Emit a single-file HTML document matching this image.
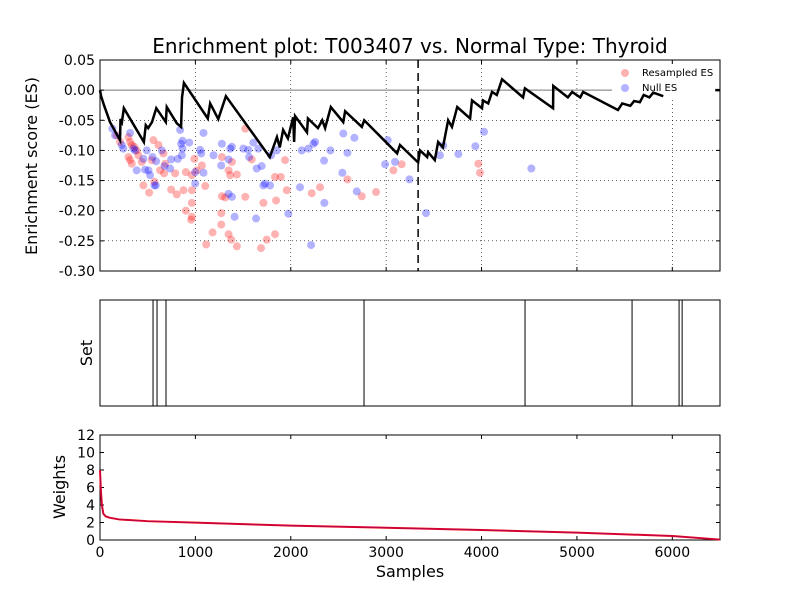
<!DOCTYPE html>
<html><head><meta charset="utf-8"><style>
body{margin:0;background:#fff}
svg{display:block;font-family:"DejaVu Sans","Liberation Sans",sans-serif}
</style></head><body>
<svg id="c" width="800" height="600" viewBox="0 0 800 600"></svg>
<script>
const xTicks=[0,1000,2000,3000,4000,5000,6000];
const esTicks=[0.05,0,-0.05,-0.10,-0.15,-0.20,-0.25,-0.30];
const wTicks=[0,2,4,6,8,10,12];
const esSamples=[0,10,42,105,210,215,230,250,460,480,505,545,590,690,700,805,850,860,880,1130,1155,1240,1320,1780,1855,1885,1920,1970,2025,2035,2045,2170,2180,2285,2330,2360,2420,2550,2570,2745,2770,3115,3145,3335,3355,3430,3440,3510,3545,3595,3650,3690,3745,3880,3900,4005,4015,4070,4110,4160,4215,4435,4455,4750,4752,4905,4950,5035,5065,5430,5475,5560,5600,5660,5700,5760,5800,5905];
const esValues=[0,-0.009,-0.025,-0.053,-0.083,-0.048,-0.053,-0.030,-0.086,-0.058,-0.063,-0.053,-0.030,-0.053,-0.028,-0.055,-0.061,-0.012,0.012,-0.047,-0.022,-0.048,-0.010,-0.111,-0.078,-0.095,-0.066,-0.080,-0.045,-0.086,-0.043,-0.070,-0.047,-0.063,-0.050,-0.063,-0.028,-0.053,-0.035,-0.061,-0.050,-0.105,-0.091,-0.120,-0.100,-0.111,-0.103,-0.116,-0.086,-0.095,-0.050,-0.061,-0.028,-0.047,-0.017,-0.030,-0.017,-0.022,-0.003,-0.008,0.018,-0.012,0.003,-0.030,0.007,-0.012,-0.003,-0.012,-0.003,-0.033,-0.022,-0.026,-0.018,-0.020,-0.008,-0.012,-0.004,-0.010];
const resS=[175,210,298,315,333,360,385,402,298,315,333,438,455,515,570,543,560,613,665,630,683,672,788,746,805,875,900,963,990,1015,1068,1103,963,963,900,963,956,1180,1113,1271,1271,1278,1313,1348,1376,1435,1523,1523,1278,1348,1383,1435,1365,1590,1713,1748,1688,1835,1846,1835,1895,1940,1958,2220,2307,2594,2744,2894,3076,3163,3966,3984];
const resES=[-0.075,-0.086,-0.078,-0.086,-0.091,-0.094,-0.100,-0.108,-0.111,-0.116,-0.122,-0.119,-0.158,-0.170,-0.152,-0.116,-0.083,-0.091,-0.105,-0.133,-0.122,-0.138,-0.138,-0.165,-0.173,-0.166,-0.136,-0.141,-0.114,-0.133,-0.125,-0.159,-0.166,-0.187,-0.200,-0.210,-0.215,-0.236,-0.256,-0.204,-0.223,-0.176,-0.178,-0.239,-0.248,-0.259,-0.064,-0.177,-0.111,-0.133,-0.119,-0.140,-0.141,-0.115,-0.187,-0.248,-0.262,-0.239,-0.183,-0.144,-0.144,-0.116,-0.166,-0.171,-0.161,-0.148,-0.176,-0.169,-0.133,-0.123,-0.122,-0.137];
const nullS=[130,158,228,245,315,350,368,455,473,490,385,508,525,550,570,585,588,648,676,735,746,815,840,850,865,865,858,935,998,998,1050,1061,1085,1085,1190,1271,1278,1348,1365,1383,1348,1383,1411,1503,1556,1563,1608,1660,1695,1713,1730,1783,1643,1636,1793,1853,1975,2097,2115,2185,2237,2255,2349,2352,2415,2541,2551,2594,2667,2692,2989,3017,3093,3244,3418,2213,3564,3599,3757,3935,4026,4522];
const nullES=[-0.064,-0.075,-0.091,-0.097,-0.071,-0.097,-0.100,-0.114,-0.132,-0.100,-0.133,-0.133,-0.141,-0.111,-0.158,-0.158,-0.118,-0.100,-0.126,-0.130,-0.115,-0.114,-0.066,-0.089,-0.084,-0.097,-0.108,-0.087,-0.155,-0.136,-0.099,-0.105,-0.071,-0.137,-0.108,-0.125,-0.089,-0.115,-0.097,-0.094,-0.172,-0.177,-0.210,-0.097,-0.099,-0.111,-0.087,-0.097,-0.126,-0.158,-0.155,-0.158,-0.130,-0.213,-0.108,-0.100,-0.205,-0.161,-0.100,-0.097,-0.089,-0.086,-0.117,-0.187,-0.100,-0.137,-0.072,-0.104,-0.079,-0.168,-0.123,-0.083,-0.119,-0.148,-0.204,-0.257,-0.108,-0.092,-0.106,-0.093,-0.069,-0.130];
const setHits=[556,598,692,2768,4456,5578,6071,6103];
const maxES=3335;
const wSamples=[0,10,20,35,60,100,200,500,1000,2000,3000,4000,5000,6000,6500];
const wValues=[8,5.5,4.0,3.0,2.7,2.55,2.35,2.15,1.98,1.64,1.4,1.14,0.84,0.46,0.05];

const NS="http://www.w3.org/2000/svg";
const svg=document.getElementById('c');
function el(t,a,p){const e=document.createElementNS(NS,t);for(const k in a)e.setAttribute(k,a[k]);(p||svg).appendChild(e);return e;}
const L=100,R=720;
const xs=v=>L+(v/6500)*(R-L);
const T1=60,B1=271,ys=v=>T1+(0.05-v)/0.35*(B1-T1);
const T2=300,B2=406;
const T3=435,B3=540,yw=v=>B3-(v/12)*(B3-T3);

let t=el('text',{x:410,y:53,'text-anchor':'middle','font-size':20});t.textContent='Enrichment plot: T003407 vs. Normal Type: Thyroid';


const g1=el('g',{});

xTicks.forEach(v=>{if(v>0){const l=el('line',{x1:xs(v),x2:xs(v),y1:T1,y2:B1,stroke:'#000','stroke-width':0.6,'stroke-dasharray':'1,3'},g1);}});
esTicks.forEach(v=>{if(v<0.049&&v>-0.299){const l=el('line',{x1:L,x2:R,y1:ys(v),y2:ys(v),stroke:'#000','stroke-width':0.6,'stroke-dasharray':'1,3'},g1);}});
let zl=el('line',{x1:L,x2:612,y1:ys(0),y2:ys(0),stroke:'#777','stroke-width':1},g1);

resS.forEach((s,i)=>{const c=el('circle',{cx:xs(s),cy:ys(resES[i]),r:4,fill:'#ff0000','fill-opacity':0.3},g1);});
nullS.forEach((s,i)=>{const c=el('circle',{cx:xs(s),cy:ys(nullES[i]),r:4,fill:'#0000ff','fill-opacity':0.3},g1);});
let lb=el('rect',{x:612,y:62,width:106,height:36,fill:'#fff'},g1);

let lc1=el('circle',{cx:625,cy:73,r:4,fill:'#ff0000','fill-opacity':0.3},g1);
let lc2=el('circle',{cx:625,cy:88,r:4,fill:'#0000ff','fill-opacity':0.3},g1);
let lt1=el('text',{x:642,y:76,'font-size':10},g1);lt1.textContent='Resampled ES';
let lt2=el('text',{x:642,y:91,'font-size':10},g1);lt2.textContent='Null ES';
let pl=el('polyline',{points:esSamples.map((s,i)=>xs(s)+','+ys(esValues[i])).join(' '),fill:'none',stroke:'#000','stroke-width':2.5,'stroke-linejoin':'miter'},g1);

let tail=el('line',{x1:xs(6450),x2:xs(6500),y1:ys(0),y2:ys(0),stroke:'#000','stroke-width':2.5},g1);

let dl=el('line',{x1:xs(maxES),x2:xs(maxES),y1:T1,y2:B1,stroke:'#000','stroke-width':1.5,'stroke-dasharray':'8,5'},g1);


function frame(top,bot,name){const r=el('rect',{x:L,y:top,width:R-L,height:bot-top,fill:'none',stroke:'#000','stroke-width':1});}
frame(T1,B1,'es-axes-frame');frame(T2,B2,'set-axes-frame');frame(T3,B3,'weights-axes-frame');
function xt(top,bot,labels){xTicks.forEach(v=>{const x=xs(v);el('line',{x1:x,x2:x,y1:bot,y2:bot-4,stroke:'#000'});el('line',{x1:x,x2:x,y1:top,y2:top+4,stroke:'#000'});if(labels){const tx=el('text',{x:x,y:bot+17,'text-anchor':'middle','font-size':14});tx.textContent=v;}});}
xt(T1,B1,false);xt(T3,B3,true);
esTicks.forEach(v=>{const y=ys(v);el('line',{x1:L,x2:L+4,y1:y,y2:y,stroke:'#000'});el('line',{x1:R,x2:R-4,y1:y,y2:y,stroke:'#000'});const tx=el('text',{x:L-5,y:y+5,'text-anchor':'end','font-size':14});tx.textContent=v.toFixed(2);});
wTicks.forEach(v=>{const y=yw(v);el('line',{x1:L,x2:L+4,y1:y,y2:y,stroke:'#000'});el('line',{x1:R,x2:R-4,y1:y,y2:y,stroke:'#000'});const tx=el('text',{x:L-5,y:y+5,'text-anchor':'end','font-size':14});tx.textContent=v;});

setHits.forEach(s=>{const l=el('line',{x1:xs(s),x2:xs(s),y1:T2,y2:B2,stroke:'#000','stroke-width':1});});

let wl=el('polyline',{points:wSamples.map((s,i)=>xs(s)+','+yw(wValues[i])).join(' '),fill:'none',stroke:'#ff0000','stroke-width':2});

let wl2=el('polyline',{points:wSamples.map((s,i)=>xs(s)+','+yw(wValues[i])).join(' '),fill:'none',stroke:'#6a0dad','stroke-width':1.2,'stroke-opacity':0.45});


function ylab(x,y,txt,name){const e=el('text',{x:x,y:y,'text-anchor':'middle','font-size':16,transform:`rotate(-90 ${x} ${y})`});e.textContent=txt;}
ylab(37,166,'Enrichment score (ES)','es-axis-title');
ylab(92,353,'Set','set-axis-title');
ylab(65,487,'Weights','weights-axis-title');
let xl=el('text',{x:410,y:577,'text-anchor':'middle','font-size':16});xl.textContent='Samples';

</script>
</body></html>
